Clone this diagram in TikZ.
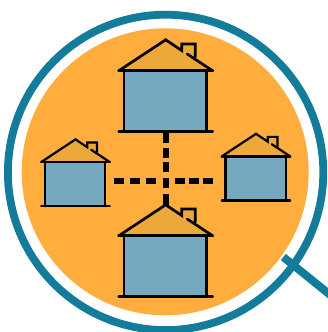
\documentclass[tikz,border=0pt]{standalone}
\definecolor{ringblue}{HTML}{147C9B}
\definecolor{disc}{HTML}{FFAD3D}
\definecolor{roofc}{HTML}{ECA93A}
\definecolor{wallc}{HTML}{74A9BF}
\tikzset{
  ringline/.style={draw=ringblue,line width=7.8pt},
  hline/.style={draw=black,line width=#1,line cap=round,line join=miter},
  vdash/.style={draw=black,line width=6pt,dash pattern=on 11pt off 5pt on 10pt off 4pt on 10pt off 6pt on 10pt off 6pt on 11pt},
  hdash/.style={draw=black,line width=6pt,dash pattern=on 10pt off 6pt on 10pt off 6pt on 10pt off 19pt on 10pt off 4pt on 10pt off 4pt on 10pt}
}
% #1 x, #2 y (apex), #3 scale, #4 line width
\newcommand{\house}[4]{%
\begin{scope}[shift={(#1,#2)},x=#3pt,y=-#3pt]
  \fill[roofc] (0,0) -- (-47,31) -- (47,31) -- cycle;
  \fill[roofc] (16,10) -- (16,4.2) -- (29.5,4.2) -- (29.5,20) -- cycle;
  \fill[wallc] (-41.7,31) rectangle (40.7,91.5);
  \draw[hline=#4] (-41.7,31) -- (-41.7,91.5);
  \draw[hline=#4] (40.7,31) -- (40.7,91.5);
  \draw[hline=#4] (-47,91.5) -- (47,91.5);
  \draw[hline=#4] (-47,31) -- (47,31);
  \draw[hline=#4] (47,31) -- (21.5,14.2);
  \draw[hline=#4] (-47,31) -- (0,0) -- (16,10.7) -- (16,4.2) -- (29.5,4.2) -- (29.5,17.4);
\end{scope}}
\begin{document}
\begin{tikzpicture}[x=1pt,y=-1pt]
\useasboundingbox (0,0) rectangle (327,332);
\fill[white] (0,0) rectangle (327,332);
\coordinate (discc) at (165.2,171.8);
\coordinate (ringc) at (165.6,172.4);
\fill[disc] (discc) circle [radius=143.5pt];
\draw[ringline] (ringc) circle [radius=157.7pt];
\coordinate (handleA) at (283.3,257);
\coordinate (handleB) at (335,298.8);
\draw[ringline,line width=8pt] (handleA) -- (handleB);
\coordinate (topb) at (166,132);
\coordinate (botb) at (166,205);
\coordinate (leftb) at (114,181);
\coordinate (rightb) at (213,181);
\draw[vdash] (topb) -- (botb);
\draw[hdash] (leftb) -- (rightb);
\house{165.7}{39.8}{1}{2.7pt}
\house{165.7}{204.8}{1}{2.7pt}
\house{75.5}{139.4}{0.73}{2.2pt}
\house{256}{133.8}{0.73}{2.2pt}
\end{tikzpicture}
\end{document}
